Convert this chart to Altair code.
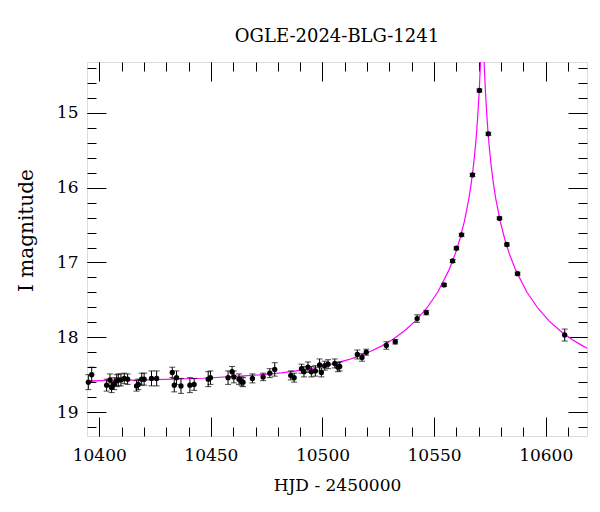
import altair as alt
import pandas as pd

# observed photometry (HJD-2450000, I mag, error)
hjd = [10395.1, 10396.6, 10403.3, 10404.8, 10405.5, 10406.7, 10407.8, 10408.5, 10409.7, 10411.2,
       10412.7, 10416.7, 10417.5, 10419.0, 10420.1, 10423.4, 10425.7, 10432.7, 10433.6, 10434.6,
       10436.6, 10440.6, 10442.5, 10448.8, 10449.8, 10457.7, 10459.5, 10460.3, 10462.6, 10463.7,
       10464.4, 10468.6, 10473.4, 10476.4, 10478.6, 10485.8, 10487.3, 10490.6, 10491.7, 10493.5,
       10495.0, 10496.8, 10498.7, 10499.5, 10501.0, 10502.5, 10505.5, 10506.9, 10507.7, 10515.6,
       10517.7, 10519.6, 10528.6, 10532.6, 10542.4, 10546.5, 10554.5, 10558.3, 10560.0, 10562.3,
       10567.2, 10570.3, 10574.3, 10579.3, 10582.6, 10587.4, 10608.5]
mag = [18.60, 18.50, 18.64, 18.57, 18.67, 18.62, 18.58, 18.57, 18.57, 18.55,
       18.56, 18.65, 18.63, 18.56, 18.56, 18.55, 18.55, 18.47, 18.64, 18.54,
       18.65, 18.64, 18.63, 18.56, 18.54, 18.54, 18.46, 18.53, 18.56, 18.59,
       18.60, 18.55, 18.53, 18.48, 18.43, 18.51, 18.54, 18.42, 18.46, 18.40,
       18.46, 18.45, 18.37, 18.47, 18.38, 18.36, 18.35, 18.40, 18.39, 18.23,
       18.27, 18.20, 18.11, 18.06, 17.75, 17.67, 17.30, 16.98, 16.81, 16.63,
       15.83, 14.70, 15.28, 16.41, 16.76, 17.15, 17.97]
err = [0.10, 0.10, 0.08, 0.08, 0.07, 0.08, 0.08, 0.08, 0.08, 0.07,
       0.07, 0.07, 0.07, 0.08, 0.08, 0.10, 0.10, 0.07, 0.09, 0.09,
       0.10, 0.10, 0.08, 0.10, 0.09, 0.09, 0.07, 0.08, 0.07, 0.06,
       0.06, 0.06, 0.05, 0.06, 0.09, 0.06, 0.06, 0.06, 0.07, 0.07,
       0.07, 0.07, 0.08, 0.06, 0.06, 0.06, 0.06, 0.06, 0.06, 0.06,
       0.05, 0.04, 0.05, 0.03, 0.05, 0.03, 0.02, 0.02, 0.02, 0.02,
       0.02, 0.02, 0.02, 0.02, 0.02, 0.02, 0.08]

# model light curve
model_hjd = [10394.6, 10421.6, 10446.6, 10471.6, 10481.6, 10491.6, 10501.6, 10511.6, 10516.6,
             10521.6, 10526.6, 10531.6, 10536.6, 10541.6, 10546.6, 10551.6, 10556.6, 10559.6,
             10561.6, 10563.6, 10565.6, 10566.6, 10567.6, 10568.6, 10569.1, 10569.6, 10570.1,
             10570.4, 10570.6, 10570.8, 10571.1, 10571.6, 10572.1, 10572.4, 10572.6, 10572.8,
             10573.1, 10573.6, 10574.1, 10574.6, 10575.6, 10576.6, 10577.6, 10579.6, 10581.6,
             10583.6, 10586.6, 10591.6, 10596.6, 10601.6, 10606.6, 10611.6, 10616.6, 10618.6]
model_mag = [18.583, 18.570, 18.548, 18.504, 18.475, 18.435, 18.379, 18.300, 18.249,
             18.188, 18.115, 18.026, 17.917, 17.784, 17.615, 17.398, 17.106, 16.875,
             16.683, 16.447, 16.142, 15.949, 15.716, 15.420, 15.237, 15.022, 14.765,
             14.585, 14.455, 14.319, 14.119, 13.937, 14.119, 14.319, 14.455, 14.585,
             14.765, 15.022, 15.237, 15.420, 15.716, 15.949, 16.142, 16.447, 16.683,
             16.875, 17.106, 17.398, 17.615, 17.784, 17.917, 18.026, 18.115, 18.147]

x_major = [10400, 10450, 10500, 10550, 10600]
x_minor = [10400 + 10 * i for i in range(22)]
y_major = [15, 16, 17, 18, 19]
y_minor = [round(14.4 + 0.2 * i, 1) for i in range(25)]

obs = pd.DataFrame({"hjd": hjd, "mag": mag, "err": err})
obs["lo"] = obs["mag"] - obs["err"]
obs["hi"] = obs["mag"] + obs["err"]
model = pd.DataFrame({"t": model_hjd, "m": model_mag})

FONT = "DejaVu Serif"
FS = 17
MAJ = 19
MIN = 9

xs = alt.Scale(domain=[10394.5, 10618.5], nice=False, zero=False)
ys = alt.Scale(domain=[14.32, 19.32], reverse=True, nice=False, zero=False)


def tick_axis(orient, values, size):
    return alt.Axis(orient=orient, values=values, offset=-size, tickSize=size, labels=False,
                    domain=False, grid=False, title=None, tickColor="black", tickWidth=1)


ax_x_lab = alt.Axis(orient="bottom", values=x_major, ticks=False, domain=False, grid=False,
                    labelFont=FONT, labelFontSize=FS, labelColor="black", labelPadding=11,
                    labelFlush=False, labelOverlap=False, format="d",
                    title="HJD - 2450000", titleFont=FONT, titleFontSize=FS,
                    titleFontWeight="normal", titleColor="black", titlePadding=14)
ax_y_lab = alt.Axis(orient="left", values=y_major, ticks=False, domain=False, grid=False,
                    labelFont=FONT, labelFontSize=FS, labelColor="black", labelPadding=9,
                    labelFlush=False, labelOverlap=False, format="d",
                    title="I magnitude", titleFont=FONT, titleFontSize=20,
                    titleFontWeight="normal", titleColor="black", titlePadding=20,
                    titleY=168)

line = alt.Chart(model).mark_line(color="#ff00ff", strokeWidth=1.2, clip=True).encode(
    x=alt.X("t:Q", scale=xs, axis=ax_x_lab),
    y=alt.Y("m:Q", scale=ys, axis=ax_y_lab),
    order="t:Q",
)

bars = alt.Chart(obs).mark_rule(color="black", strokeWidth=1).encode(
    x=alt.X("hjd:Q", scale=xs, axis=tick_axis("bottom", x_major, MAJ)),
    y=alt.Y("lo:Q", scale=ys, axis=tick_axis("left", y_major, MAJ)),
    y2="hi:Q",
)

cap_lo = alt.Chart(obs).mark_tick(color="black", orient="horizontal", size=6, thickness=1).encode(
    x=alt.X("hjd:Q", scale=xs, axis=tick_axis("bottom", x_minor, MIN)),
    y=alt.Y("lo:Q", scale=ys, axis=tick_axis("left", y_minor, MIN)),
)

cap_hi = alt.Chart(obs).mark_tick(color="black", orient="horizontal", size=6, thickness=1).encode(
    x=alt.X("hjd:Q", scale=xs, axis=tick_axis("top", x_major, MAJ)),
    y=alt.Y("hi:Q", scale=ys, axis=tick_axis("right", y_major, MAJ)),
)

pts = alt.Chart(obs).mark_circle(color="black", size=28, opacity=1).encode(
    x=alt.X("hjd:Q", scale=xs, axis=tick_axis("top", x_minor, MIN)),
    y=alt.Y("mag:Q", scale=ys, axis=tick_axis("right", y_minor, MIN)),
)

chart = alt.layer(line, bars, cap_lo, cap_hi, pts).resolve_axis(
    x="independent", y="independent"
).properties(
    width=500,
    height=374,
    title=alt.TitleParams("OGLE-2024-BLG-1241", font=FONT, fontSize=18, fontWeight="normal",
                          color="black", offset=16, anchor="middle"),
    autosize=alt.AutoSizeParams(type="none"),
    padding={"left": 79, "top": 54, "right": 5, "bottom": 60},
).configure_view(stroke="black", strokeWidth=1).configure(background="white")

chart.save("out.html", embed_options={"renderer": "svg", "actions": False})
